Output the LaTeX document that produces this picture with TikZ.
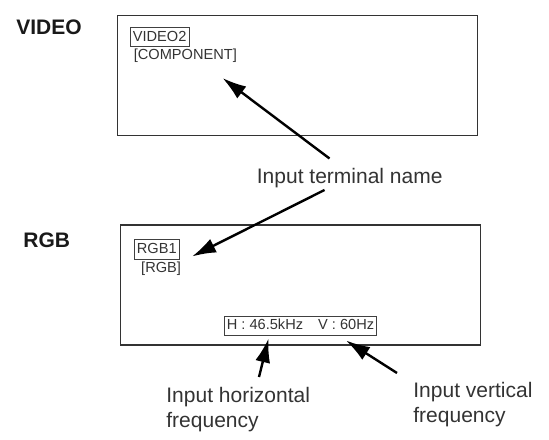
\documentclass[tikz,border=0pt]{standalone}
\usepackage{fontspec}
\setmainfont{Liberation Sans}
\usetikzlibrary{arrows.meta,positioning}

\begin{document}
\begin{tikzpicture}[
  x=0.5pt, y=-0.5pt,
  >={Latex[length=12pt,width=7.5pt]},
  screen/.style={draw=black!80, line width=0.7pt, minimum width=180pt, minimum height=60pt, inner sep=0pt},
  tag/.style={draw=black!75, line width=0.5pt, inner sep=1.3pt, text height=5.6pt, text depth=1.4pt, font=\fontsize{7.3}{8.5}\selectfont, text=black!80},
  osd/.style={inner sep=0pt, font=\fontsize{7.3}{8.5}\selectfont, text=black!80},
  mode/.style={inner sep=0pt, font=\fontsize{10.5}{12}\selectfont\bfseries, text=black!90},
  note/.style={inner sep=0pt, align=left, font=\fontsize{10.5}{12.5}\selectfont, text=black!80},
  pointer/.style={->, line width=1.2pt}
]
\useasboundingbox (0,0) rectangle (549,439);

% video input screen
\node[mode, anchor=west] (videolbl) at (16,27.5) {VIDEO};
\node[screen] (videoscr) at (297.5,75.5) {};
\node[tag, anchor=north west] (videotag) at ([xshift=6.5pt,yshift=-6pt]videoscr.north west) {VIDEO2};
\node[osd, below right=1pt and 1.8pt of videotag.south west] (videotype) {[COMPONENT]};

% rgb input screen
\node[mode, anchor=west] (rgblbl) at (23,240) {RGB};
\node[screen] (rgbscr) at (300.5,285) {};
\node[tag, anchor=north west] (rgbtag) at ([xshift=7pt,yshift=-7.5pt]rgbscr.north west) {RGB1};
\node[osd, below right=1pt and 3.5pt of rgbtag.south west] (rgbtype) {[RGB]};
\node[tag, above=5pt of rgbscr.south] (freq) {H : 46.5kHz\hspace{7.5pt}V : 60Hz};

% explanations
\node[note, anchor=base west] (term) at (256.5,183) {Input terminal name};
\node[note, anchor=north west] (hnote) at (166,387) {Input horizontal\\frequency};
\node[note, anchor=north west] (vnote) at (413,382) {Input vertical\\frequency};

\coordinate (termup) at (329.5,158.5);
\coordinate (termdown) at (324.5,190);
\coordinate (videoptr) at (222.5,78);
\coordinate (rgbptr) at (192,256.5);
\coordinate (hptr) at (268.5,338.5);
\coordinate (vptr) at (346,340.5);
\coordinate (htail) at (259,377);
\coordinate (vtail) at (397,373);

\draw[pointer] (termup) -- (videoptr);
\draw[pointer] (termdown) -- (rgbptr);
\draw[pointer] (htail) -- (hptr);
\draw[pointer] (vtail) -- (vptr);
\end{tikzpicture}
\end{document}
